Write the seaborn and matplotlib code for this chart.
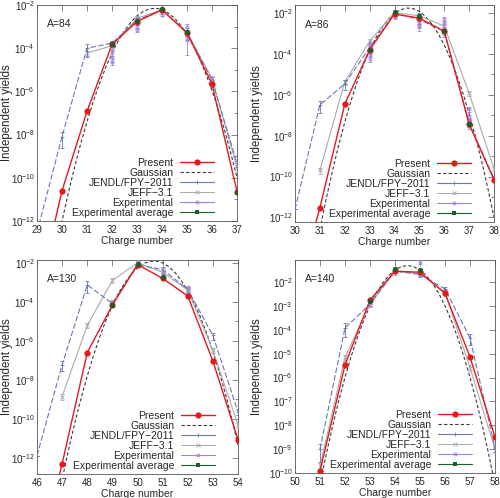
import numpy as np
import matplotlib
matplotlib.use('Agg')
import matplotlib.pyplot as plt
import matplotlib.ticker as mticker
from matplotlib.lines import Line2D
import seaborn as sns

sns.set_theme(style='white')
plt.rcParams['font.family'] = ['Liberation Sans', 'DejaVu Sans']
plt.rcParams['mathtext.fontset'] = 'custom'
plt.rcParams['mathtext.rm'] = 'Liberation Sans'
plt.rcParams['mathtext.it'] = 'Liberation Sans:italic'
plt.rcParams['font.size'] = 7.2

### A=84
z84 = [29, 30, 31, 32, 33, 34, 35, 36, 37]
present84 = [2.5e-16, 2.5e-11, 1.2e-7, 1.5e-4, 1.7e-3, 6.0e-3, 5.2e-4, 2.2e-6, 2.3e-11]
gauss_z84 = np.arange(29.75, 37.01, 0.25)
gauss84_log = [-13.38, -12.01, -10.72, -9.52, -8.42, -7.40, -6.47, -5.63, -4.89, -4.23,
               -3.66, -3.19, -2.80, -2.50, -2.30, -2.18, -2.15, -2.21, -2.37, -2.61,
               -2.94, -3.37, -3.88, -4.48, -5.18, -5.96, -6.83, -7.79, -8.85, -9.99]
jendl_z84 = [29, 30, 31, 32, 33, 34, 35, 36, 37]
jendl84 = [3e-13, 8e-9, 1.0e-4, 1.7e-4, 2.0e-3, 5.9e-3, 5.0e-4, 3.4e-6, 4.7e-10]
jendl84_rel = [0, 0.7, 0.6, 0.3, 0.2, 0.1, 0.3, 0.3, 0.3]
jeff_z84 = [31, 32, 33, 34, 35, 36, 37]
jeff84 = [6e-5, 1.3e-4, 2.4e-3, 6.0e-3, 5.5e-4, 4.0e-6, 3e-10]
exp_z84 = [32, 32, 32, 32, 33, 33, 33, 34, 34, 35, 35, 35, 35, 36, 36]
exp84 = [1.2e-4, 5.8e-5, 3.4e-5, 2.4e-5, 2.4e-3, 1.0e-3, 7e-4, 6e-3, 3.4e-3,
         1.0e-3, 6.5e-4, 3.4e-4, 2.4e-4, 3.4e-6, 2.4e-6]
exp84_rel = [0.3, 0.3, 0.3, 0.3, 0.2, 0.2, 0.2, 0.1, 0.1, 0.3, 0.3, 0.3, 0.8, 0.3, 0.3]
avg_z84 = [32, 33, 34, 35, 37]
avg84 = [1.5e-4, 1.8e-3, 6.2e-3, 5.5e-4, 2.3e-11]

### A=86
z86 = [30, 31, 32, 33, 34, 35, 36, 37, 38]
present86 = [1e-16, 3e-12, 3.5e-7, 1.6e-4, 9e-3, 5.7e-3, 1.3e-3, 3.7e-8, 7e-11]
gauss_z86 = np.arange(31.0, 38.01, 0.25)
gauss86_log = [-12.59, -11.12, -9.75, -8.49, -7.34, -6.30, -5.36, -4.54, -3.82, -3.20,
               -2.70, -2.30, -2.01, -1.83, -1.75, -1.78, -1.92, -2.17, -2.53, -2.99,
               -3.56, -4.24, -5.02, -5.91, -6.91, -8.02, -9.23, -10.56, -11.99]
jendl_z86 = [30, 31, 32, 33, 34, 35, 36, 37, 38]
jendl86 = [2.5e-12, 3.2e-7, 3.5e-6, 2e-4, 1e-2, 4.8e-3, 1.3e-3, 4e-8, 8e-11]
jendl86_rel = [0, 0.6, 0.5, 0.3, 0.15, 0.4, 0.2, 0.3, 0.3]
jeff_z86 = [31, 32, 33, 34, 35, 36, 37, 38]
jeff86 = [2e-10, 4.3e-6, 4.3e-4, 1.07e-2, 7.4e-3, 2.3e-3, 1.2e-6, 2.4e-10]
exp_z86 = [33, 33, 33, 33, 33, 34, 34, 34, 35, 35, 35, 35, 36, 36, 36, 36, 37, 37, 37, 37]
exp86 = [3e-4, 2.5e-4, 1.5e-4, 1e-4, 6e-5, 1.1e-2, 8e-3, 7e-3, 8e-3, 5e-3, 3e-3, 2e-3,
         5e-3, 3e-3, 1.5e-3, 1e-3, 2e-7, 8e-8, 5e-8, 3e-8]
exp86_rel = [0.3] * 20
avg_z86 = [33, 34, 35, 36, 37]
avg86 = [1.6e-4, 1.1e-2, 6.9e-3, 1.3e-3, 3.7e-8]

### A=130
z130 = [46, 47, 48, 49, 50, 51, 52, 53, 54]
present130 = [2.5e-18, 5e-13, 2.5e-7, 6.8e-5, 8.2e-3, 1.6e-3, 2e-4, 9.3e-8, 8.7e-12]
gauss_z130 = np.arange(46.75, 54.01, 0.25)
gauss130_log = [-14.68, -13.09, -11.61, -10.23, -8.96, -7.80, -6.74, -5.78, -4.93, -4.19,
                -3.55, -3.01, -2.58, -2.25, -2.03, -1.92, -1.91, -2.00, -2.20, -2.51,
                -2.92, -3.43, -4.05, -4.77, -5.60, -6.54, -7.58, -8.72, -9.97, -11.33]
jendl_z130 = [46, 47, 48, 49, 50, 51, 52, 53, 54]
jendl130 = [1.3e-12, 6e-8, 7.4e-4, 8.3e-5, 8e-3, 4.5e-3, 4.4e-4, 1.9e-6, 2.3e-10]
jendl130_rel = [0, 0.5, 0.6, 0.2, 0.2, 0.3, 0.3, 0.4, 0.3]
jeff_z130 = [47, 48, 49, 50, 51, 52, 53, 54]
jeff130 = [1.4e-9, 6.2e-6, 1.25e-3, 1e-2, 3.3e-3, 4e-4, 3.3e-7, 5e-11]
exp_z130 = [49, 49, 50, 50, 51, 51, 52, 52]
exp130 = [1e-4, 8e-5, 1.2e-2, 9e-3, 4e-3, 2e-3, 5e-4, 3e-4]
exp130_rel = [0.3] * 8
avg_z130 = [49, 50, 51]
avg130 = [7e-5, 9e-3, 1.8e-3]

### A=140
z140 = [50, 51, 52, 53, 54, 55, 56, 57, 58]
present140 = [1e-14, 1.2e-10, 3.4e-6, 1.8e-3, 2.9e-2, 2.6e-2, 3.4e-3, 7.4e-6, 3.2e-9]
gauss_z140 = np.arange(51.0, 58.01, 0.25)
gauss140_log = [-10.49, -9.22, -8.05, -6.97, -5.99, -5.10, -4.30, -3.60, -2.99, -2.47,
                -2.05, -1.72, -1.49, -1.35, -1.30, -1.35, -1.49, -1.72, -2.05, -2.47,
                -2.99, -3.60, -4.30, -5.10, -5.99, -6.97, -8.05, -9.22, -10.49]
jendl_z140 = [51, 52, 53, 54, 55, 56, 57, 58]
jendl140 = [1e-9, 1.2e-4, 1.2e-3, 2.9e-2, 2.1e-2, 5.2e-3, 4.6e-5, 1.1e-9]
jendl140_rel = [0.7, 0.6, 0.2, 0.1, 0.2, 0.2, 0.5, 0.3]
jeff_z140 = [51, 52, 53, 54, 55, 56, 57, 58]
jeff140 = [2e-10, 7e-6, 1.3e-3, 2.9e-2, 2.3e-2, 3.8e-3, 2.6e-6, 1e-9]
exp_z140 = [53, 53, 54, 54, 55, 55, 55, 56]
exp140 = [1.8e-3, 1.3e-3, 3.5e-2, 3e-2, 7e-2, 2.5e-2, 2e-2, 4e-3]
exp140_rel = [0.2] * 8
avg_z140 = [53, 54, 55]
avg140 = [1.6e-3, 3.6e-2, 3.3e-2]

C_PRES = '#e5191c'
C_GAUSS = '#3a3a3a'
C_JENDL = '#6b76b2'
C_JEFF = '#ababab'
C_EXP = '#a084d8'
C_AVG = '#1d5e2a'

panels = [
    dict(label='A=84', rect=[37, 5, 200, 216], ylab_x=13, xlim=(29, 37), ylim=(1e-12, 1e-2), step=2,
         z=z84, pres=present84, gz=gauss_z84, glog=gauss84_log,
         jz=jendl_z84, jv=jendl84, jr=jendl84_rel, fz=jeff_z84, fv=jeff84,
         ez=exp_z84, ev=exp84, er=exp84_rel, az=avg_z84, av=avg84),
    dict(label='A=86', rect=[295, 5, 199, 217], ylab_x=263, xlim=(30, 38), ylim=(6e-13, 2.5e-2), step=2,
         z=z86, pres=present86, gz=gauss_z86, glog=gauss86_log,
         jz=jendl_z86, jv=jendl86, jr=jendl86_rel, fz=jeff_z86, fv=jeff86,
         ez=exp_z86, ev=exp86, er=exp86_rel, az=avg_z86, av=avg86),
    dict(label='A=130', rect=[37, 260, 201, 214], ylab_x=13, xlim=(46, 54), ylim=(1.5e-13, 1.4e-2), step=2,
         z=z130, pres=present130, gz=gauss_z130, glog=gauss130_log,
         jz=jendl_z130, jv=jendl130, jr=jendl130_rel, fz=jeff_z130, fv=jeff130,
         ez=exp_z130, ev=exp130, er=exp130_rel, az=avg_z130, av=avg130),
    dict(label='A=140', rect=[295, 260, 200, 213], ylab_x=263, xlim=(50, 58), ylim=(1e-10, 8.5e-2), step=1,
         z=z140, pres=present140, gz=gauss_z140, glog=gauss140_log,
         jz=jendl_z140, jv=jendl140, jr=jendl140_rel, fz=jeff_z140, fv=jeff140,
         ez=exp_z140, ev=exp140, er=exp140_rel, az=avg_z140, av=avg140),
]

W, H = 500, 498
fig = plt.figure(figsize=(W / 100, H / 100), dpi=100)

def pow10(v, pos):
    e = int(round(np.log10(v)))
    return r'$10^{%d}$' % e

for p in panels:
    x0, y0, w, h = p['rect']
    ax = fig.add_axes([x0 / W, 1 - (y0 + h) / H, w / W, h / H])
    ax.set_yscale('log')

    # gaussian
    sns.lineplot(x=p['gz'], y=10 ** np.array(p['glog']), ax=ax, color=C_GAUSS,
                 linewidth=0.8, linestyle=(0, (3, 2)), zorder=2)
    # JEFF-3.1
    fv = np.array(p['fv'])
    sns.lineplot(x=p['fz'], y=fv, ax=ax, color=C_JEFF, linewidth=0.8, zorder=3)
    ax.errorbar(p['fz'], fv, yerr=0.3 * fv, fmt='x', ms=2.5, mew=0.6, color=C_JEFF,
                elinewidth=0.6, capsize=1.5, zorder=3)
    # JENDL
    jv = np.array(p['jv'])
    sns.lineplot(x=p['jz'], y=jv, ax=ax, color=C_JENDL, linewidth=0.8,
                 linestyle=(0, (5, 2)), zorder=4)
    ax.errorbar(p['jz'], jv, yerr=np.array(p['jr']) * jv, fmt='+', ms=2.5, mew=0.6,
                color=C_JENDL, elinewidth=0.6, capsize=1.5, zorder=4)
    # experimental
    ev = np.array(p['ev'])
    ax.errorbar(p['ez'], ev, yerr=np.array(p['er']) * ev, fmt='o', ms=2.2, mew=0.6,
                mfc='none', color=C_EXP, elinewidth=0.6, capsize=1.5, zorder=5)
    # present
    sns.lineplot(x=p['z'], y=p['pres'], ax=ax, color=C_PRES, linewidth=1.0,
                 marker='o', markersize=4.5, markeredgewidth=0, zorder=6)
    # experimental average
    sns.scatterplot(x=p['az'], y=p['av'], ax=ax, color=C_AVG, marker='o', s=14,
                    linewidth=0, zorder=7)

    ax.set_xlim(*p['xlim'])
    ax.set_ylim(*p['ylim'])
    ax.xaxis.set_major_locator(mticker.MultipleLocator(1))
    if p['step'] == 2:
        ax.yaxis.set_major_locator(mticker.FixedLocator([10.0 ** e for e in range(-12, -1, 2)]))
        ax.yaxis.set_minor_locator(mticker.FixedLocator([10.0 ** e for e in range(-13, -1, 2)]))
    else:
        ax.yaxis.set_major_locator(mticker.FixedLocator([10.0 ** e for e in range(-10, -1)]))
        ax.yaxis.set_minor_locator(mticker.NullLocator())
    ax.yaxis.set_major_formatter(mticker.FuncFormatter(pow10))
    ax.yaxis.set_minor_formatter(mticker.NullFormatter())
    ax.tick_params(which='both', direction='in', top=True, right=True, labelsize=7.0,
                   width=0.5, color='#555555', pad=3)
    ax.tick_params(axis='y', pad=1.5)
    ax.tick_params(which='major', length=4)
    ax.tick_params(which='minor', length=2)
    for s in ax.spines.values():
        s.set_linewidth(0.6)
        s.set_color('#555555')
    ax.set_xlabel('Charge number', fontsize=7.5, labelpad=0.5)
    ax.set_ylabel('Independent yields', fontsize=8.3)
    ax.yaxis.set_label_coords((p['ylab_x'] - x0) / w, 0.5)
    ax.text(0.05, 0.91, p['label'], transform=ax.transAxes, va='center', fontsize=7.5)

    handles = [
        Line2D([], [], color=C_PRES, lw=1.0, marker='o', ms=4.5, mew=0),
        Line2D([], [], color=C_GAUSS, lw=0.8, ls=(0, (3, 2))),
        Line2D([], [], color=C_JENDL, lw=0.8, marker='+', ms=3, mew=0.6),
        Line2D([], [], color=C_JEFF, lw=0.8, marker='x', ms=2.5, mew=0.6),
        Line2D([], [], color=C_EXP, lw=0.8, marker='o', ms=2.2, mfc='none', mew=0.6),
        Line2D([], [], color=C_AVG, lw=0.8, marker='s', ms=2.8, mew=0),
    ]
    labels = ['Present', 'Gaussian', 'JENDL/FPY\u22122011', 'JEFF\u22123.1',
              'Experimental', 'Experimental average']
    ax.legend(handles, labels, loc='lower right', bbox_to_anchor=(0.885, 0.015),
              frameon=False, markerfirst=False, fontsize=7.5, labelspacing=0.0,
              handlelength=3.3, handletextpad=0.6, borderpad=0, borderaxespad=0)

fig.savefig('out.png', dpi=100)
